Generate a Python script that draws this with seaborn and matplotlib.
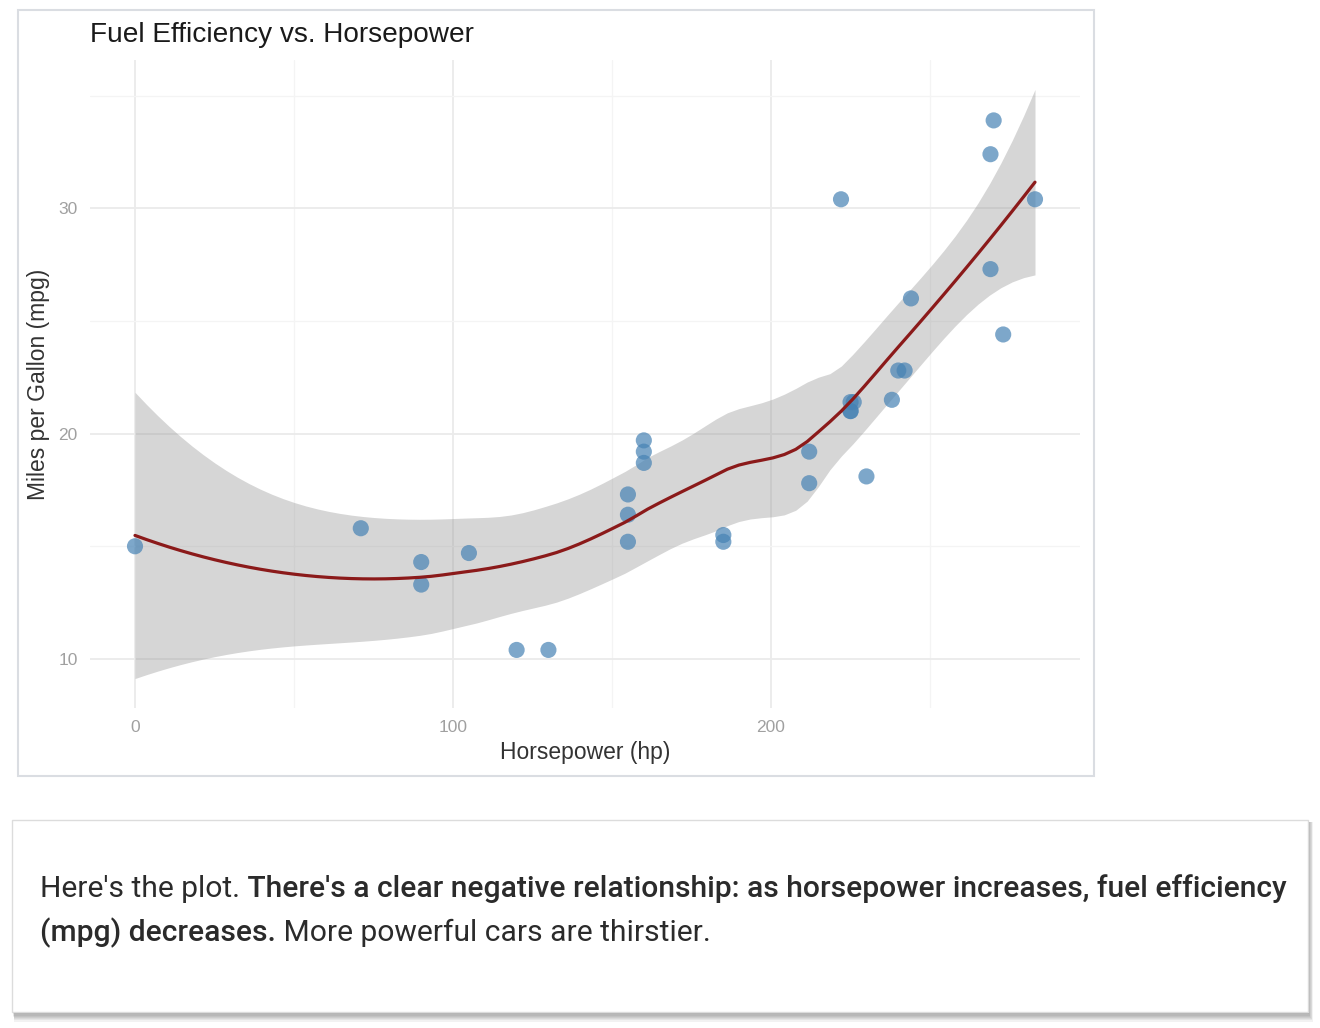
import numpy as np
import pandas as pd
import matplotlib
matplotlib.use("Agg")
import matplotlib.pyplot as plt
from matplotlib.patches import Rectangle
import seaborn as sns

sns.set_theme(style="white")
plt.rcParams['font.family'] = ['Liberation Sans', 'DejaVu Sans']

# horsepower (hp) and miles per gallon, 32 cars
hp = [225, 225, 242, 225, 160, 230, 90, 273, 240, 212, 212, 155, 155, 155, 130, 120,
      105, 269, 283, 270, 238, 185, 185, 90, 160, 269, 244, 222, 71, 160, 0, 226]
mpg = [21.0, 21.0, 22.8, 21.4, 18.7, 18.1, 14.3, 24.4, 22.8, 19.2, 17.8, 16.4, 17.3, 15.2, 10.4, 10.4,
       14.7, 32.4, 30.4, 33.9, 21.5, 15.5, 15.2, 13.3, 19.2, 27.3, 26.0, 30.4, 15.8, 19.7, 15.0, 21.4]
x_ticks = [0, 100, 200]
y_ticks = [10, 20, 30]

df = pd.DataFrame({'hp': hp, 'mpg': mpg})

W, H = 1320, 1028


# ---- loess smoother (span 0.75, degree 2, kd-tree + hermite interpolation like R) ----
def local_rows(x, x0, q):
    n = len(x)
    d = np.abs(x - x0)
    h = np.sort(d)[q - 1]
    w = np.clip(1 - (d / h) ** 3, 0, None) ** 3
    X = np.column_stack([np.ones(n), x - x0, (x - x0) ** 2])
    XtW = X.T * w
    B = np.linalg.solve(XtW @ X, XtW)
    return B[0], B[1]          # operator rows for value and slope


def kd_vertices(xs, fc):
    lo, hi = xs[0], xs[-1]
    mu = 0.005 * (hi - lo)
    verts = {lo - mu, hi + mu}

    def split(l, u, a, b):
        if u - l + 1 <= fc:
            return
        m = (l + u) // 2
        off = 0
        while l <= m + off < u:
            if xs[m + off] == xs[m + off + 1]:
                off = -off
                if off >= 0:
                    off += 1
            else:
                m = m + off
                break
        v = xs[m]
        if v == a or v == b:
            return
        verts.add(v)
        split(l, m, a, v)
        split(m + 1, u, v, b)

    split(0, len(xs) - 1, lo - mu, hi + mu)
    return np.array(sorted(verts))


def loess_matrix(x, x_eval, span=0.75, cell=0.2):
    n = len(x)
    q = int(np.floor(n * span))
    fc = int(np.floor(n * span * cell))
    vx = kd_vertices(np.sort(x), fc)
    V, S = zip(*[local_rows(x, v, q) for v in vx])
    V, S = np.array(V), np.array(S)
    L = np.zeros((len(x_eval), n))
    for k, g in enumerate(x_eval):
        j = min(max(np.searchsorted(vx, g) - 1, 0), len(vx) - 2)
        h = vx[j + 1] - vx[j]
        t = (g - vx[j]) / h
        L[k] = ((2 * t ** 3 - 3 * t ** 2 + 1) * V[j] + (t ** 3 - 2 * t ** 2 + t) * h * S[j]
                + (-2 * t ** 3 + 3 * t ** 2) * V[j + 1] + (t ** 3 - t ** 2) * h * S[j + 1])
    return L


def t_quantile(df_, z=1.959964):
    g1 = (z ** 3 + z) / 4
    g2 = (5 * z ** 5 + 16 * z ** 3 + 3 * z) / 96
    g3 = (3 * z ** 7 + 19 * z ** 5 + 17 * z ** 3 - 15 * z) / 384
    return z + g1 / df_ + g2 / df_ ** 2 + g3 / df_ ** 3


x = df['hp'].to_numpy(float)
y = df['mpg'].to_numpy(float)
grid = np.linspace(x.min(), x.max(), 80)

Lx = loess_matrix(x, x)
M = np.eye(len(x)) - Lx
MtM = M.T @ M
one_delta = np.trace(MtM)
two_delta = np.trace(MtM @ MtM)
s = np.sqrt(np.sum((M @ y) ** 2) / one_delta)
Lg = loess_matrix(x, grid)
fit = Lg @ y
se = s * np.sqrt(np.sum(Lg ** 2, axis=1))
tq = t_quantile(one_delta ** 2 / two_delta)
smooth = pd.DataFrame({'hp': grid, 'mpg': fit, 'lo': fit - tq * se, 'hi': fit + tq * se})

fig = plt.figure(figsize=(W / 100, H / 100), dpi=100)
fig.patch.set_facecolor('white')


def px_rect(x0, y0, x1, y1, **kw):
    r = Rectangle((x0 / W, 1 - y1 / H), (x1 - x0) / W, (y1 - y0) / H,
                  transform=fig.transFigure, **kw)
    fig.add_artist(r)


# chart frame
px_rect(18, 10, 1094, 776, facecolor='white', edgecolor='#dadde2', lw=1.5, zorder=0)

ax = fig.add_axes([90 / W, 1 - 708 / H, (1080 - 90) / W, (708 - 60) / H])
ax.set_facecolor('none')

ax.fill_between(smooth['hp'], smooth['lo'], smooth['hi'], color='#999999', alpha=0.4, lw=0, zorder=2)
sns.scatterplot(data=df, x='hp', y='mpg', ax=ax, color='#4682B4', alpha=0.7, s=135,
                edgecolor='none', zorder=3)
sns.lineplot(data=smooth, x='hp', y='mpg', ax=ax, color='#8B1A1A', lw=2.3, zorder=4)

xr = x.max() - x.min()
ax.set_xlim(x.min() - 0.05 * xr, x.max() + 0.05 * xr)
ylo, yhi = smooth['lo'].min(), smooth['hi'].max()
yr = yhi - ylo
ax.set_ylim(ylo - 0.05 * yr, yhi + 0.05 * yr)

ax.set_xticks(x_ticks)
ax.set_yticks(y_ticks)
ax.set_xticks([50, 150, 250], minor=True)
ax.set_yticks([15, 25, 35], minor=True)
ax.grid(which='major', color='#ebebeb', lw=1.3, zorder=0)
ax.grid(which='minor', color='#f4f4f4', lw=0.9, zorder=0)
ax.set_axisbelow(True)
for sp in ax.spines.values():
    sp.set_visible(False)
ax.tick_params(which='both', length=0, labelsize=12.5, labelcolor='#a0a0a0', pad=9)

ax.set_xlabel('Horsepower (hp)', fontsize=16.5, color='#333333', labelpad=4)
ax.set_ylabel('Miles per Gallon (mpg)', fontsize=16.5, color='#333333', labelpad=6)
ax.set_title('Fuel Efficiency vs. Horsepower', loc='left', fontsize=20.2, color='#1a1a1a', pad=13)

# caption box with soft shadow
for k in range(1, 9):
    px_rect(12 + 0.3 * k, 822, 1308 + 0.6 * k, 1012 + 1.2 * k, facecolor='black',
            alpha=0.05, lw=0, zorder=0)
px_rect(12, 820, 1308, 1012, facecolor='white', edgecolor='#dcdcdc', lw=1, zorder=1)

renderer = fig.canvas.get_renderer()


def text_row(pieces, x0, y0):
    xpos = x0
    for txt, wt in pieces:
        t = fig.text(xpos / W, 1 - y0 / H, txt, fontsize=21.6, color='#2b2b2b', weight=wt,
                     family=['Roboto', 'DejaVu Sans'], va='baseline', ha='left', zorder=5)
        xpos += t.get_window_extent(renderer).width


text_row([("Here's the plot.", 'normal'),
          (" There's a clear negative relationship: as horsepower increases, fuel efficiency", 'medium')],
         40, 897)
text_row([("(mpg) decreases.", 'medium'),
          (" More powerful cars are thirstier.", 'normal')],
         40, 941)

fig.savefig('out.png', dpi=100)
